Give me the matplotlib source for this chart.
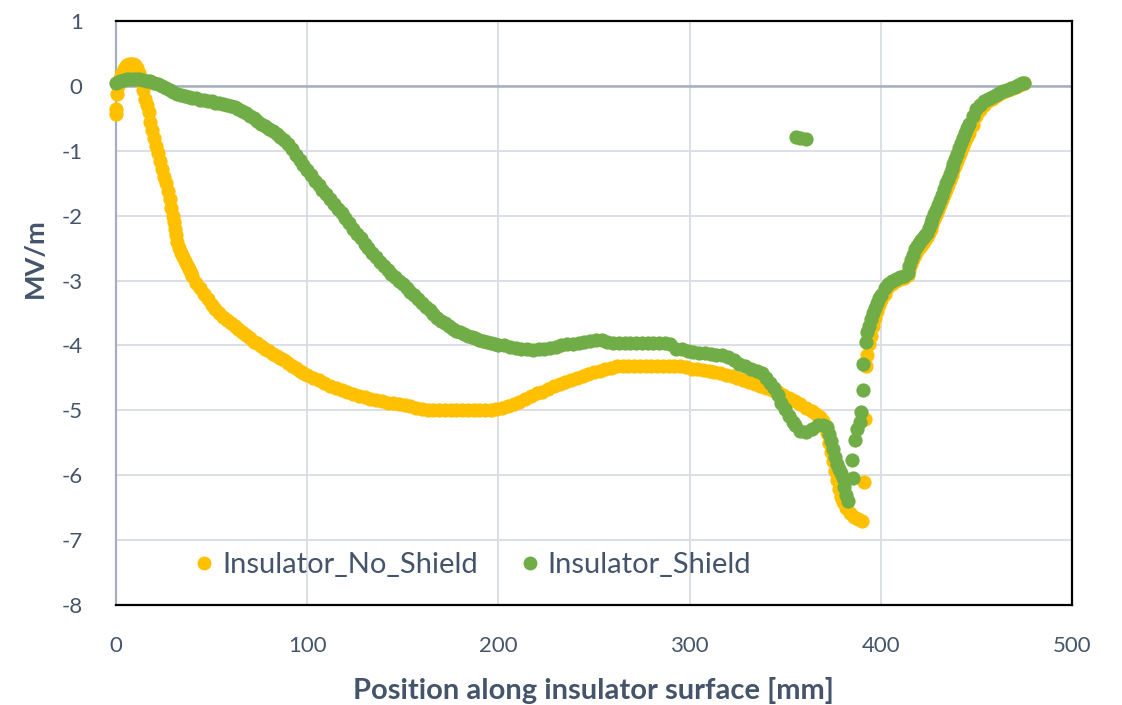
import matplotlib
matplotlib.use("Agg")
import matplotlib.pyplot as plt
from matplotlib.lines import Line2D

# series: Insulator_No_Shield (position mm, field MV/m)
no_shield_x = [
    0, 0, 0.5, 1, 2, 3, 4, 5, 6, 7, 8, 9, 10, 11, 12, 13, 14, 15, 16, 17,
    18, 19, 20, 21, 22, 23, 24, 25, 26, 27, 28, 29, 30, 30.5, 31, 31.5, 32, 33, 34, 35, 36, 37,
    38, 39, 40, 42, 44, 46, 48, 50, 52, 54, 56, 58, 60, 62, 64, 66, 68, 70, 72, 74,
    76, 78, 80, 82, 84, 86, 88, 90, 92, 94, 96, 98, 100, 103, 106, 109, 112, 115, 118, 121,
    124, 127, 130, 133, 136, 139, 142, 145, 148, 151, 154, 157, 160, 163, 166, 169, 172, 175, 178, 181,
    184, 187, 190, 193, 196, 199, 202, 205, 208, 211, 214, 217, 220, 223, 226, 229, 232, 235, 238, 241,
    244, 247, 250, 253, 256, 259, 262, 265, 268, 271, 274, 277, 280, 283, 286, 289, 292, 295, 298, 301,
    304, 307, 310, 313, 316, 319, 322, 325, 328, 331, 334, 337, 340, 343, 346, 349, 352, 355, 358, 361,
    364, 366, 368, 370, 371, 372, 373, 374, 375, 376, 377, 378, 379, 380, 382, 384, 386, 388, 390,
    391, 391.5, 392.4, 393, 394, 395, 396, 397, 398, 399, 400, 402, 404, 406, 408, 410, 412, 414, 415, 416, 417, 418,
    419, 420, 421, 422, 423, 424, 425, 426, 427, 428, 429, 430, 431, 432, 433, 434, 435, 436, 437, 438, 439, 440,
    441, 442, 443, 444, 445, 446, 448, 450, 452, 454, 456, 458,
    460, 462, 464, 466, 468, 470, 472, 474, 475,
]
no_shield_y = [
    -0.43, -0.35, -0.12, 0.0, 0.12, 0.2, 0.26, 0.3, 0.32, 0.33, 0.33, 0.33, 0.32, 0.28, 0.2, 0.08, -0.06, -0.2, -0.3, -0.4,
    -0.55, -0.68, -0.8, -0.92, -1.04, -1.16, -1.28, -1.4, -1.5, -1.62, -1.75, -1.88, -2.0, -2.1, -2.2, -2.3, -2.4, -2.5, -2.58, -2.64, -2.7, -2.76,
    -2.82, -2.88, -2.93, -3.03, -3.12, -3.21, -3.29, -3.37, -3.44, -3.5, -3.56, -3.61, -3.66, -3.7, -3.74, -3.79, -3.84, -3.89, -3.94, -3.97,
    -4.01, -4.05, -4.09, -4.13, -4.17, -4.2, -4.23, -4.27, -4.31, -4.35, -4.39, -4.43, -4.46, -4.5, -4.54, -4.58, -4.62, -4.66, -4.69, -4.72,
    -4.75, -4.78, -4.8, -4.82, -4.84, -4.86, -4.88, -4.89, -4.9, -4.92, -4.94, -4.96, -4.98, -5.0, -5.0, -5.0, -5.0, -5.0, -5.0, -5.0,
    -5.0, -5.0, -5.0, -5.0, -5.0, -4.98, -4.96, -4.93, -4.9, -4.87, -4.82, -4.78, -4.74, -4.71, -4.67, -4.63, -4.59, -4.56, -4.53, -4.5,
    -4.47, -4.44, -4.41, -4.39, -4.37, -4.34, -4.32, -4.32, -4.32, -4.32, -4.32, -4.32, -4.32, -4.32, -4.32, -4.32, -4.32, -4.32, -4.33, -4.36,
    -4.37, -4.38, -4.39, -4.41, -4.43, -4.45, -4.47, -4.5, -4.53, -4.57, -4.6, -4.63, -4.66, -4.69, -4.72, -4.76, -4.81, -4.86, -4.91, -4.96,
    -5.01, -5.06, -5.11, -5.17, -5.23, -5.35, -5.5, -5.64, -5.78, -5.93, -6.08, -6.22, -6.34, -6.42, -6.5, -6.58, -6.64, -6.68, -6.7,
    -6.1, -5.13, -4.31, -4.15, -3.98, -3.85, -3.7, -3.57, -3.47, -3.37, -3.3, -3.2, -3.1, -3.05, -3.0, -2.98, -2.96, -2.92, -2.84, -2.75, -2.67, -2.6,
    -2.55, -2.5, -2.46, -2.42, -2.38, -2.33, -2.27, -2.2, -2.13, -2.05, -1.99, -1.92, -1.84, -1.76, -1.68, -1.6, -1.53, -1.45, -1.38, -1.3, -1.23, -1.16,
    -1.08, -1.0, -0.92, -0.85, -0.78, -0.72, -0.6, -0.47, -0.37, -0.3, -0.24, -0.2,
    -0.16, -0.13, -0.1, -0.07, -0.05, -0.02, 0.0, 0.03, 0.05,
]

# series: Insulator_Shield
shield_x = [
    0, 2, 4, 6, 8, 10, 12, 14, 16, 18, 20, 22, 24, 26, 28, 30, 32, 34, 36, 38,
    40, 42, 44, 46, 48, 50, 52, 54, 56, 58, 60, 62, 64, 66, 68, 70, 72, 74, 76, 78,
    80, 82, 84, 86, 88, 90, 92, 94, 96, 98, 100, 102, 104, 106, 108, 110, 112, 114, 116, 118,
    120, 122, 124, 126, 128, 130, 132, 134, 136, 138, 140, 142, 144, 146, 148, 150, 152, 154, 156, 158,
    160, 162, 164, 166, 168, 170, 172, 174, 176, 178, 180, 182, 184, 186, 188, 190, 192, 194, 196, 198,
    200, 203, 206, 209, 212, 215, 218, 221, 224, 227, 230, 233, 236, 239, 242, 245, 248, 251, 254, 257,
    260, 263, 266, 269, 272, 275, 278, 281, 284, 287, 290, 293, 296, 299, 302, 305, 308, 311, 314, 317,
    320, 323, 326, 329, 332, 335, 338, 340, 342, 344, 346, 348, 350, 352, 354, 355,
    358, 361, 364, 367, 370, 372, 373, 374, 375, 376, 377, 378, 379, 380, 381, 382, 383,
    385.4, 385.1, 386.3, 387.7, 388.9, 389.8, 390.7, 390.7, 392, 393, 394, 395, 396, 397, 398, 399, 400, 402, 404, 406,
    408, 410, 412, 414, 415, 416, 417, 418, 419, 420, 421, 422, 423, 424, 425, 426, 427, 428, 429, 430,
    431, 432, 433, 434, 435, 436, 437, 438, 439, 440, 441, 442, 443, 444, 445, 446,
    448, 450, 452, 454, 456, 458, 460, 462, 464, 466, 468, 470, 472, 474, 475,
    355.5, 358, 361,
]
shield_y = [
    0.05, 0.07, 0.09, 0.1, 0.1, 0.1, 0.1, 0.09, 0.08, 0.07, 0.05, 0.03, 0.0, -0.03, -0.06, -0.09, -0.12, -0.14, -0.16, -0.17,
    -0.18, -0.19, -0.21, -0.22, -0.23, -0.24, -0.26, -0.27, -0.28, -0.3, -0.31, -0.33, -0.35, -0.38, -0.42, -0.46, -0.5, -0.54, -0.58, -0.62,
    -0.66, -0.7, -0.74, -0.78, -0.83, -0.9, -0.98, -1.06, -1.14, -1.22, -1.3, -1.38, -1.46, -1.53, -1.6, -1.66, -1.74, -1.82, -1.89, -1.96,
    -2.03, -2.12, -2.2, -2.28, -2.35, -2.43, -2.5, -2.57, -2.64, -2.71, -2.78, -2.84, -2.9, -2.95, -3.0, -3.06, -3.12, -3.18, -3.23, -3.28,
    -3.34, -3.4, -3.46, -3.52, -3.57, -3.62, -3.66, -3.7, -3.74, -3.77, -3.8, -3.83, -3.85, -3.87, -3.89, -3.91, -3.93, -3.95, -3.97, -3.98,
    -3.99, -4.0, -4.02, -4.04, -4.05, -4.06, -4.07, -4.06, -4.05, -4.04, -4.02, -4.0, -3.98, -3.98, -3.97, -3.95, -3.93, -3.92, -3.92, -3.95,
    -3.97, -3.97, -3.97, -3.97, -3.97, -3.97, -3.97, -3.97, -3.97, -3.97, -3.98, -4.05, -4.06, -4.08, -4.1, -4.11, -4.12, -4.13, -4.14, -4.15,
    -4.18, -4.23, -4.28, -4.32, -4.36, -4.39, -4.43, -4.5, -4.58, -4.66, -4.76, -4.88, -4.98, -5.08, -5.18, -5.23,
    -5.32, -5.33, -5.28, -5.23, -5.22, -5.25, -5.36, -5.48, -5.6, -5.72, -5.82, -5.9, -5.97, -6.05, -6.18, -6.3, -6.4,
    -6.05, -5.76, -5.46, -5.28, -5.18, -5.02, -4.68, -4.28, -3.94, -3.8, -3.7, -3.6, -3.5, -3.42, -3.34, -3.27, -3.22, -3.12, -3.05, -3.0,
    -2.97, -2.95, -2.93, -2.88, -2.78, -2.68, -2.6, -2.52, -2.47, -2.42, -2.38, -2.34, -2.3, -2.26, -2.19, -2.12, -2.05, -1.98, -1.91, -1.84,
    -1.76, -1.68, -1.59, -1.5, -1.43, -1.36, -1.28, -1.2, -1.12, -1.05, -0.96, -0.88, -0.8, -0.72, -0.65, -0.58,
    -0.46, -0.36, -0.29, -0.24, -0.2, -0.17, -0.14, -0.11, -0.08, -0.06, -0.03, -0.01, 0.02, 0.04, 0.05,
    -0.78, -0.8, -0.82,
]

x_ticks = [0, 100, 200, 300, 400, 500]
y_ticks = [1, 0, -1, -2, -3, -4, -5, -6, -7, -8]

orange = "#FFC000"
green = "#70AD47"
text_col = "#44546A"
axis_col = "#A5AEBE"
grid_col = "#D9DCE3"

plt.rcParams["font.family"] = ["Lato", "DejaVu Sans"]
plt.rcParams["axes.unicode_minus"] = False

fig = plt.figure(figsize=(11.22, 7.05), dpi=100)
ax = fig.add_axes([116 / 1122, 1 - 605 / 705, (1072 - 116) / 1122, (605 - 21) / 705])

ax.scatter(no_shield_x, no_shield_y, s=105, color=orange, linewidths=0, zorder=3, clip_on=False)
ax.scatter(shield_x, shield_y, s=105, color=green, linewidths=0, zorder=4, clip_on=False)

ax.set_xlim(0, 500)
ax.set_ylim(-8, 1)
ax.set_xticks(x_ticks)
ax.set_yticks(y_ticks)
ax.grid(True, color=grid_col, linewidth=1.3, zorder=0)
ax.axhline(0, color=axis_col, linewidth=1.8, zorder=1)
ax.set_axisbelow(True)

for side in ["top", "right", "bottom"]:
    ax.spines[side].set_color("black")
    ax.spines[side].set_linewidth(1.6)
ax.spines["left"].set_color(axis_col)
ax.spines["left"].set_linewidth(1.6)

ax.tick_params(axis="both", length=0, labelsize=16, labelcolor=text_col)
ax.tick_params(axis="x", pad=22)
ax.tick_params(axis="y", pad=24)

fig.text(35 / 1122, 1 - 258 / 705, "MV/m", rotation=90, ha="center", va="center",
         fontsize=19.5, fontweight="bold", color=text_col)
fig.text(593 / 1122, 1 - 690 / 705, "Position along insulator surface [mm]", ha="center", va="center",
         fontsize=21, fontweight="bold", color=text_col)

handles = [
    Line2D([], [], linestyle="none", marker="o", markersize=9, color=orange),
    Line2D([], [], linestyle="none", marker="o", markersize=9, color=green),
]
leg = ax.legend(handles, ["Insulator_No_Shield", "Insulator_Shield"], ncol=2, frameon=False,
                loc="center", bbox_to_anchor=(472 / 1122, 1 - 565 / 705), bbox_transform=fig.transFigure,
                fontsize=21, handletextpad=0.2, columnspacing=1.4, handlelength=0.8)
for t in leg.get_texts():
    t.set_color(text_col)

fig.savefig("out.png", dpi=100)
